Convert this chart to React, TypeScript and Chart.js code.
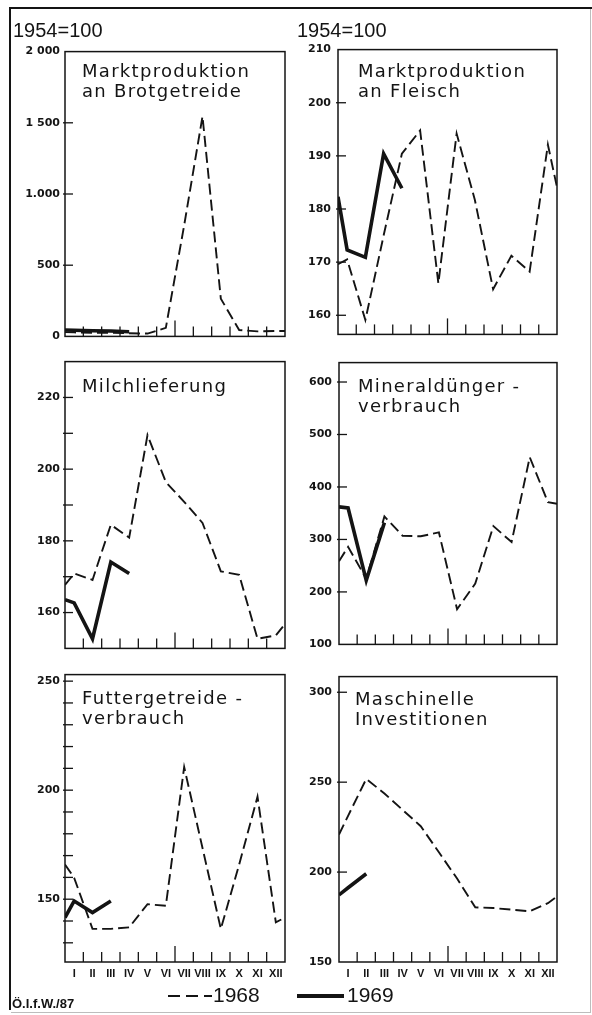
import { useEffect, useRef } from "react";
import { Chart, registerables } from "chart.js";

Chart.register(...registerables);

// ---------- data ----------
const monthLabels = ["I", "II", "III", "IV", "V", "VI", "VII", "VIII", "IX", "X", "XI", "XII"];

// 1968 series: [value at left frame, I .. XII, value at right frame]
// 1969 series: [value at left frame, I, II, ...]
const brot1968 = [30, 28, 26, 25, 22, 20, 60, 780, 1545, 265, 45, 35, 38, 38];
const brot1969 = [45, 43, 40, 38, 33];
const brotTicks = [0, 500, 1000, 1500, 2000];
const brotTickLabels = ["0", "500", "1.000", "1 500", "2 000"];

const fleisch1968 = [169.6, 170.5, 159.1, 175, 190.4, 194.8, 166, 194.2, 181.7, 164.9, 171.2, 168.2, 192.1, 184.1];
const fleisch1969 = [182.3, 172.3, 170.9, 190.4, 183.9];
const fleischTicks = [160, 170, 180, 190, 200, 210];
const fleischTickLabels = ["160", "170", "180", "190", "200", "210"];

const milch1968 = [167.7, 170.9, 169.1, 184.5, 180.9, 209.5, 196.4, 190.9, 185, 171.5, 170.5, 152.7, 153.6, 156.8];
const milch1969 = [163.6, 162.7, 152.7, 174.1, 170.9];
const milchTicks = [160, 170, 180, 190, 200, 210, 220];
const milchTickLabels = ["160", "", "180", "", "200", "", "220"];

const mineral1968 = [258.6, 286, 225, 343.8, 307, 306, 313.4, 167, 215.8, 325.5, 295, 456.7, 371, 368];
const mineral1969 = [362, 360, 222, 332];
const mineralTicks = [100, 200, 300, 400, 500, 600];
const mineralTickLabels = ["100", "200", "300", "400", "500", "600"];

const futter1968 = [165.9, 159.8, 136.4, 136.4, 137.1, 147.7, 147, 210.6, 173.5, 136.4, 165.9, 197, 139.4, 141.6];
const futter1969 = [141.6, 149.2, 143.9, 149.2];
const futterTicks = [130, 140, 150, 160, 170, 180, 190, 200, 210, 220, 230, 240, 250];
const futterTickLabels = ["", "", "150", "", "", "", "", "200", "", "", "", "", "250"];

const masch1968 = [220.9, 231.3, 251.8, 243.7, 234.6, 225.5, 211, 196.4, 180.4, 180, 179.1, 178.2, 182.7, 186.4];
const masch1969 = [187.3, 191.3, 199.1];
const maschTicks = [150, 200, 250, 300];
const maschTickLabels = ["150", "200", "250", "300"];

const legendLabels = ["1968", "1969"];
const baseLabel = "1954=100";
const sourceLabel = "Ö.I.f.W./87";

// ---------- layout / style ----------
const INK = "#141414";

type PanelDef = {
  title: string[];
  d68: number[];
  d69: number[];
  ticks: number[];
  tickLabels: string[];
  yMin: number;
  yMax: number;
  plotLeft: number;
  plotTop: number;
  plotW: number;
  plotH: number;
  yW: number;
  labelPad: number;
  months: boolean;
  titleLeft: number;
  titleTop: number;
};

const panels: PanelDef[] = [
  { title: ["Marktproduktion", "an Brotgetreide"], d68: brot1968, d69: brot1969, ticks: brotTicks, tickLabels: brotTickLabels,
    yMin: 0, yMax: 2000, plotLeft: 65, plotTop: 48, plotW: 220, plotH: 292, yW: 52, labelPad: 5, months: false, titleLeft: 82, titleTop: 61 },
  { title: ["Marktproduktion", "an Fleisch"], d68: fleisch1968, d69: fleisch1969, ticks: fleischTicks, tickLabels: fleischTickLabels,
    yMin: 156.4, yMax: 210, plotLeft: 338, plotTop: 44, plotW: 219, plotH: 296, yW: 46, labelPad: 7, months: false, titleLeft: 358, titleTop: 61 },
  { title: ["Milchlieferung"], d68: milch1968, d69: milch1969, ticks: milchTicks, tickLabels: milchTickLabels,
    yMin: 150, yMax: 230, plotLeft: 65, plotTop: 358, plotW: 220, plotH: 294, yW: 52, labelPad: 5, months: false, titleLeft: 82, titleTop: 376 },
  { title: ["Mineraldünger -", "verbrauch"], d68: mineral1968, d69: mineral1969, ticks: mineralTicks, tickLabels: mineralTickLabels,
    yMin: 100, yMax: 637, plotLeft: 339, plotTop: 357, plotW: 218, plotH: 293, yW: 46, labelPad: 7, months: false, titleLeft: 358, titleTop: 376 },
  { title: ["Futtergetreide -", "verbrauch"], d68: futter1968, d69: futter1969, ticks: futterTicks, tickLabels: futterTickLabels,
    yMin: 121.2, yMax: 253, plotLeft: 65, plotTop: 671, plotW: 220, plotH: 291, yW: 52, labelPad: 5, months: true, titleLeft: 82, titleTop: 688 },
  { title: ["Maschinelle", "Investitionen"], d68: masch1968, d69: masch1969, ticks: maschTicks, tickLabels: maschTickLabels,
    yMin: 150, yMax: 308.7, plotLeft: 339, plotTop: 671, plotW: 218, plotH: 291, yW: 46, labelPad: 7, months: true, titleLeft: 355, titleTop: 689 },
];

const PAD_TOP = 8;
const PAD_RIGHT = 4;

function toPoints(values: number[]) {
  return values.map((y, i) => ({ x: i === 0 ? 0.5 : i === 13 ? 12.5 : i, y }));
}

const framePlugin = {
  id: "frameTicks",
  afterDatasetsDraw(chart: any) {
    const { ctx, chartArea: a, scales } = chart;
    ctx.save();
    ctx.strokeStyle = INK;
    ctx.lineWidth = 1.5;
    ctx.strokeRect(a.left, a.top, a.right - a.left, a.bottom - a.top);
    ctx.lineWidth = 1.3;
    // month boundary ticks on the bottom axis
    for (let m = 1; m < 12; m++) {
      const x = scales.x.getPixelForValue(m + 0.5);
      const len = m === 6 ? 16 : 10;
      ctx.beginPath();
      ctx.moveTo(x, a.bottom);
      ctx.lineTo(x, a.bottom - len);
      ctx.stroke();
    }
    // value ticks on the left axis
    const yTicks = scales.y.ticks;
    yTicks.forEach((t: any) => {
      const y = scales.y.getPixelForValue(t.value);
      if (y <= a.top + 1 || y >= a.bottom - 1) return;
      ctx.beginPath();
      ctx.moveTo(a.left - 2, y);
      ctx.lineTo(a.left + 8, y);
      ctx.stroke();
    });
    ctx.restore();
  },
};

function Panel({ p }: { p: PanelDef }) {
  const ref = useRef<HTMLCanvasElement>(null);
  const xH = p.months ? 26 : 8;
  const width = p.yW + p.plotW + PAD_RIGHT;
  const height = PAD_TOP + p.plotH + xH;

  useEffect(() => {
    const canvas = ref.current;
    if (!canvas) return;
    const chart = new Chart(canvas, {
      type: "line",
      data: {
        datasets: [
          {
            label: legendLabels[0],
            data: toPoints(p.d68),
            borderColor: INK,
            borderWidth: 1.9,
            borderDash: [11, 5],
            pointRadius: 0,
            tension: 0,
            fill: false,
          },
          {
            label: legendLabels[1],
            data: toPoints(p.d69),
            borderColor: INK,
            borderWidth: 3.6,
            pointRadius: 0,
            tension: 0,
            fill: false,
          },
        ],
      },
      options: {
        animation: false,
        responsive: false,
        maintainAspectRatio: false,
        devicePixelRatio: 1,
        layout: { padding: { top: PAD_TOP, right: PAD_RIGHT, left: 0, bottom: 0 } },
        plugins: { legend: { display: false }, tooltip: { enabled: false } },
        scales: {
          x: {
            type: "linear",
            min: 0.5,
            max: 12.5,
            afterBuildTicks: (axis: any) => {
              axis.ticks = monthLabels.map((_, i) => ({ value: i + 1 }));
            },
            afterFit: (s: any) => {
              s.height = xH;
            },
            ticks: {
              display: p.months,
              autoSkip: false,
              maxRotation: 0,
              padding: 5,
              color: INK,
              font: { family: "'Liberation Sans', Arial, sans-serif", size: 11, weight: "bold" },
              callback: (v: any) => monthLabels[Number(v) - 1] ?? "",
            },
            grid: { display: false, drawTicks: false },
            border: { display: false },
          },
          y: {
            type: "linear",
            min: p.yMin,
            max: p.yMax,
            afterBuildTicks: (axis: any) => {
              axis.ticks = p.ticks.map((v) => ({ value: v }));
            },
            afterFit: (s: any) => {
              s.width = p.yW;
            },
            ticks: {
              autoSkip: false,
              padding: p.labelPad,
              color: INK,
              font: { family: "'DejaVu Sans', sans-serif", size: 11, weight: "bold" },
              callback: (_v: any, i: number) => p.tickLabels[i] ?? "",
            },
            grid: { display: false, drawTicks: false },
            border: { display: false },
          },
        },
      },
      plugins: [framePlugin],
    } as any);
    return () => chart.destroy();
  }, [p]);

  return (
    <canvas
      ref={ref}
      width={width}
      height={height}
      style={{
        position: "absolute",
        left: p.plotLeft - p.yW,
        top: p.plotTop - PAD_TOP,
        width,
        height,
      }}
    />
  );
}

const titleStyle: React.CSSProperties = {
  position: "absolute",
  fontFamily: "'DejaVu Sans', sans-serif",
  fontSize: 18,
  lineHeight: "20px",
  letterSpacing: "1.3px",
  color: INK,
  whiteSpace: "nowrap",
};

export default function App() {
  return (
    <div
      style={{
        position: "absolute",
        left: 0,
        top: 0,
        width: 592,
        height: 1015,
        background: "#fff",
        overflow: "hidden",
      }}
    >
      {/* outer frame */}
      <div style={{ position: "absolute", left: 9, top: 7, width: 2, height: 1003, background: INK }} />
      <div style={{ position: "absolute", left: 9, top: 7, width: 583, height: 2, background: INK }} />
      <div style={{ position: "absolute", left: 590, top: 9, width: 1, height: 1003, background: "#bdbdbd" }} />
      <div style={{ position: "absolute", left: 11, top: 1012, width: 580, height: 1, background: "#bdbdbd" }} />

      {panels.map((p, i) => (
        <Panel key={i} p={p} />
      ))}

      {panels.map((p, i) => (
        <div key={"t" + i} style={{ ...titleStyle, left: p.titleLeft, top: p.titleTop }}>
          {p.title.map((line, j) => (
            <div key={j}>{line}</div>
          ))}
        </div>
      ))}

      {[13, 297].map((x, i) => (
        <div
          key={"b" + i}
          style={{
            position: "absolute",
            left: x,
            top: 20,
            fontFamily: "'Liberation Sans', Arial, sans-serif",
            fontSize: 20,
            lineHeight: "20px",
            color: INK,
          }}
        >
          {baseLabel}
        </div>
      ))}

      {/* legend */}
      <div
        style={{
          position: "absolute",
          left: 168,
          top: 995,
          width: 44,
          height: 2,
          background: `repeating-linear-gradient(to right, ${INK} 0 12px, transparent 12px 18px)`,
        }}
      />
      <div
        style={{
          position: "absolute",
          left: 213,
          top: 984,
          fontFamily: "'Liberation Sans', Arial, sans-serif",
          fontSize: 21,
          lineHeight: "21px",
          color: INK,
        }}
      >
        {legendLabels[0]}
      </div>
      <div style={{ position: "absolute", left: 297, top: 994, width: 47, height: 4, background: INK }} />
      <div
        style={{
          position: "absolute",
          left: 347,
          top: 984,
          fontFamily: "'Liberation Sans', Arial, sans-serif",
          fontSize: 21,
          lineHeight: "21px",
          color: INK,
        }}
      >
        {legendLabels[1]}
      </div>

      <div
        style={{
          position: "absolute",
          left: 12,
          top: 997,
          fontFamily: "'Liberation Sans', Arial, sans-serif",
          fontSize: 13,
          fontWeight: "bold",
          lineHeight: "14px",
          color: INK,
        }}
      >
        {sourceLabel}
      </div>
    </div>
  );
}
